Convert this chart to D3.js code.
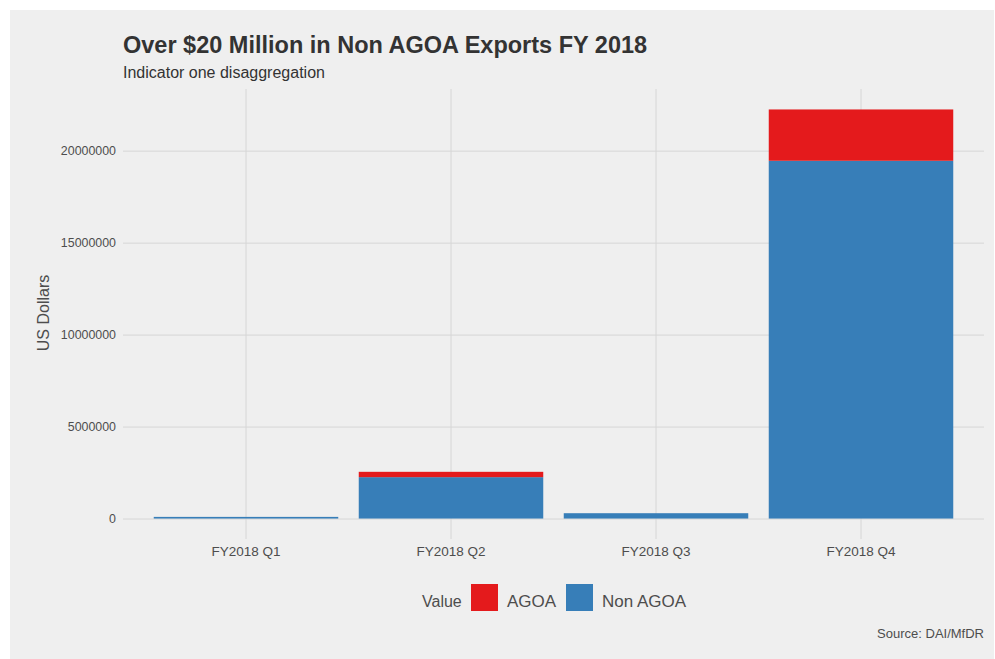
<!DOCTYPE html>
<html>
<head>
	<meta charset="utf-8">
	<title>Non AGOA Exports FY 2018</title>
	<script src="https://d3js.org/d3.v7.min.js" charset="utf-8"></script>
	<style>
	body { margin: 0; background: #ffffff; font-family: "Liberation Sans", Arial, sans-serif; overflow: hidden; }
	.grid line { stroke: #d6d6d6; stroke-width: 1; }
	.grid path { display: none; }
	.tick text { fill: #4d4d4d; }
	</style>
</head>
<body>
<script>

	// data
	var quarters = ["FY2018 Q1", "FY2018 Q2", "FY2018 Q3", "FY2018 Q4"];
	var nonAgoa = [90000, 2250000, 290000, 19450000];
	var agoa = [0, 290000, 0, 2790000];
	var yTicks = [0, 5000000, 10000000, 15000000, 20000000];
	var seriesKeys = ["Non AGOA", "AGOA"];
	var legendKeys = ["AGOA", "Non AGOA"];
	var colours = {"AGOA": "#E41A1C", "Non AGOA": "#377EB8"};

	var width = 995, height = 659;
	var panel = {left: 123, right: 984, top: 89, bottom: 539};

	var rows = quarters.map(function(q, i) {
		return {quarter: q, "Non AGOA": nonAgoa[i], "AGOA": agoa[i]};
	});

	var svg = d3.select("body").append("svg")
		.attr("width", width)
		.attr("height", height)
		.style("display", "block");

	// grey plot background
	svg.append("rect")
		.attr("x", 10).attr("y", 10)
		.attr("width", 984).attr("height", 660)
		.attr("fill", "#efefef");

	var x = d3.scaleBand()
		.domain(quarters)
		.range([panel.left, panel.right])
		.paddingInner(0.1)
		.paddingOuter(0.15);

	// ggplot style 5% expansion either side
	var maxTotal = d3.max(rows, function(d) { return d["Non AGOA"] + d["AGOA"]; });
	var pad = maxTotal * 0.05;
	var y = d3.scaleLinear()
		.domain([-pad, maxTotal + pad])
		.range([panel.bottom, panel.top]);

	// grid lines
	svg.append("g")
		.attr("class", "grid")
		.attr("transform", "translate(" + panel.left + ",0)")
		.call(d3.axisLeft(y).tickValues(yTicks).tickSize(-(panel.right - panel.left)).tickFormat(""));

	svg.append("g")
		.attr("class", "grid")
		.attr("transform", "translate(0," + panel.bottom + ")")
		.call(d3.axisBottom(x).tickSize(-(panel.bottom - panel.top)).tickFormat(""));

	// bars
	var stacked = d3.stack().keys(seriesKeys)(rows);

	svg.append("g").selectAll("g")
		.data(stacked)
		.enter().append("g")
		.attr("fill", function(s) { return colours[s.key]; })
		.selectAll("rect")
		.data(function(s) { return s; })
		.enter().append("rect")
		.attr("x", function(d) { return x(d.data.quarter); })
		.attr("width", x.bandwidth())
		.attr("y", function(d) { return y(d[1]); })
		.attr("height", function(d) { return y(d[0]) - y(d[1]); });

	// axes labels
	var yAxis = svg.append("g")
		.attr("transform", "translate(" + panel.left + ",0)")
		.call(d3.axisLeft(y).tickValues(yTicks).tickSize(0).tickPadding(7).tickFormat(d3.format("d")));
	yAxis.select(".domain").remove();
	yAxis.selectAll("text").style("font-size", "12.4px").style("font-family", "Liberation Sans, Arial, sans-serif");

	var xAxis = svg.append("g")
		.attr("transform", "translate(0," + panel.bottom + ")")
		.call(d3.axisBottom(x).tickSize(0).tickPadding(7));
	xAxis.select(".domain").remove();
	xAxis.selectAll("text").style("font-size", "13.5px").style("font-family", "Liberation Sans, Arial, sans-serif");

	svg.append("text")
		.attr("transform", "translate(49,313) rotate(-90)")
		.attr("text-anchor", "middle")
		.attr("fill", "#4d4d4d")
		.style("font-size", "16px")
		.text("US Dollars");

	// titles
	svg.append("text")
		.attr("x", 123).attr("y", 53)
		.attr("fill", "#333333")
		.style("font-size", "23.5px")
		.style("font-weight", "bold")
		.text("Over $20 Million in Non AGOA Exports FY 2018");

	svg.append("text")
		.attr("x", 123).attr("y", 78)
		.attr("fill", "#333333")
		.style("font-size", "16px")
		.text("Indicator one disaggregation");

	// legend
	var legend = svg.append("g");
	legend.append("text")
		.attr("x", 422).attr("y", 607)
		.attr("fill", "#4d4d4d")
		.style("font-size", "16px")
		.text("Value");

	var keyX = {"AGOA": 471, "Non AGOA": 566};
	var item = legend.selectAll(".item")
		.data(legendKeys)
		.enter().append("g")
		.attr("class", "item")
		.attr("transform", function(k) { return "translate(" + keyX[k] + ",584)"; });

	item.append("rect")
		.attr("width", 27).attr("height", 27)
		.attr("fill", function(k) { return colours[k]; });

	item.append("text")
		.attr("x", 36).attr("y", 23)
		.attr("fill", "#4d4d4d")
		.style("font-size", "17px")
		.text(function(k) { return k; });

	// caption
	svg.append("text")
		.attr("x", 984).attr("y", 638)
		.attr("text-anchor", "end")
		.attr("fill", "#4d4d4d")
		.style("font-size", "13px")
		.text("Source: DAI/MfDR");

</script>
</body>
</html>
